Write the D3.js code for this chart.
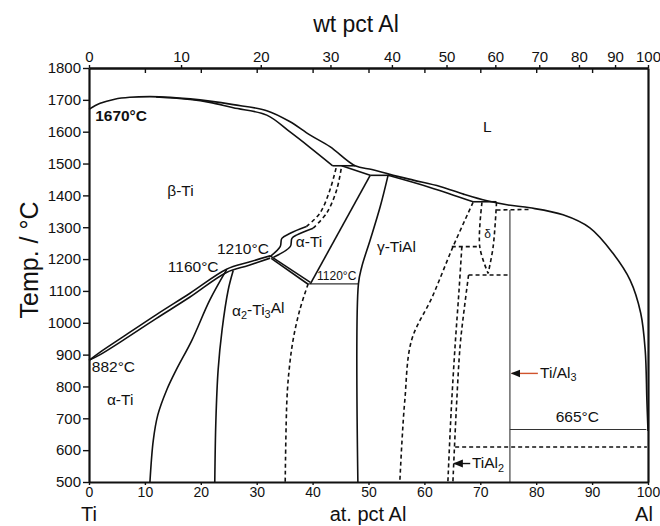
<!DOCTYPE html>
<html>
<head>
<meta charset="utf-8">
<script src="https://d3js.org/d3.v7.min.js"></script>
<style>
body{margin:0;background:#fff}
svg text{font-family:"Liberation Sans",Arial,Helvetica,sans-serif;fill:#111}
</style>
</head>
<body>
<script>
// all curves: [at. pct Al, temperature in degC]
var tempTicks = [500,600,700,800,900,1000,1100,1200,1300,1400,1500,1600,1700,1800];
var atTicks = [0,10,20,30,40,50,60,70,80,90,100];
var wtTicks = [0,10,20,30,40,50,60,70,80,90,100];
var atInnerTicks = [10,20,30,40,50,60,70,80,90];

var liquidus = [[0,1670],[2,1689],[4.6,1702],[7.3,1708],[10.9,1710],[14.5,1708],[18.1,1703],[21.6,1696],[25.8,1685],[31.8,1666],[35.9,1632],[39.5,1590],[43.1,1553],[47.6,1493],[50.6,1481],[53.8,1466],[58,1448],[62.8,1428],[67,1404],[71.2,1383],[75,1370],[78.9,1361],[84.8,1339],[89.6,1298],[93.7,1219],[96.8,1134],[98.7,1030],[99.5,914],[99.8,757],[100,660]];
var betaSolidus = [[12,1709],[18.1,1701],[21.6,1692],[25.8,1675],[31.8,1652],[35.9,1600],[39.5,1551],[43.6,1493]];
var peritectic1490 = [[43.6,1493],[47.6,1493]];
var alphaSolidus = [[45.2,1493],[50.3,1463]];
var peritectic1463 = [[50.3,1463],[53.8,1463]];
var gammaSolidus = [[53.5,1463],[61,1425],[68.7,1380]];
var deltaTop = [[68.7,1380],[72.9,1380]];
var betaTransusUpper = [[0,882],[2,908],[6,955],[12,1025],[18,1092],[24.6,1168],[28.5,1190],[32.4,1210]];
var betaTransusLower = [[0,882],[2,900],[6,944],[12,1013],[18,1080],[24.6,1158],[28.5,1180],[32.4,1203]];
var alphaBetaLeft = [[32.4,1208],[34.2,1239],[34.5,1265],[36.0,1281],[38.9,1302]];
var alphaBetaLeftHigh = [[38.9,1302],[41.3,1344],[43.1,1417],[44.3,1493]];
var alphaBetaRight = [[33.0,1206],[36.0,1239],[36.3,1265],[37.2,1276],[40.1,1297]];
var alphaBetaRightHigh = [[40.1,1297],[42.5,1344],[44.3,1417],[45.2,1493]];
var alphaAlpha2 = [[24.6,1166],[21.6,1071],[18.4,945],[15.6,852],[13.9,789],[12.3,710],[11.5,631],[10.9,500]];
var alpha2Left = [[25.8,1164],[24.9,1103],[23.8,977],[23.1,852],[22.7,694],[22.5,500]];
var alpha2TopUpper = [[32.4,1210],[39.6,1127]];
var alpha2TopLower = [[32.6,1202],[39.2,1121]];
var eutectoid1120 = [[39.2,1122],[48.2,1122]];
var alpha2Right = [[39.2,1122],[37.7,1040],[36.5,945],[35.8,852],[35.4,757],[35.1,500]];
var alphaGamma = [[39.6,1122],[50.3,1463]];
var gammaLeft = [[53.5,1463],[52.1,1365],[50.3,1260],[48.8,1176],[48.2,1122],[48.1,500]];
var gammaRight = [[68.7,1378],[65.1,1238],[61.4,1081],[57.7,945],[56.5,757],[56,631],[55.6,500]];
var line1240 = [[64.9,1239],[69.9,1239]];
var deltaLeft = [[70.3,1378],[69.9,1239],[71.4,1155]];
var deltaRight = [[72.9,1378],[72.3,1239],[71.4,1155]];
var tial2Left = [[66.7,1239],[66.2,1103],[65.5,930],[64.8,726],[64.2,500]];
var tial2Right = [[67.9,1150],[67.1,1040],[66.4,930],[65.7,726],[65.1,500]];
var line1150 = [[67.9,1150],[75.3,1150]];
var line1354 = [[72.9,1354],[78.9,1356]];
var line610 = [[65.5,610],[99.8,610]];
var tial3 = [[75.3,1354],[75.3,500]];
var eutectic665 = [[75.3,665],[99.7,665]];

var solidCurves = [liquidus, betaSolidus, peritectic1490, alphaSolidus, peritectic1463, gammaSolidus, deltaTop,
  betaTransusUpper, betaTransusLower, alphaBetaLeft, alphaBetaRight, alphaAlpha2, alpha2Left,
  alpha2TopUpper, alpha2TopLower, alphaGamma, gammaLeft];
var dashedCurves = [alphaBetaLeftHigh, alphaBetaRightHigh, alpha2Right, gammaRight, line1240, deltaLeft, deltaRight,
  tial2Left, tial2Right, line1150, line1354, line610];
var thinCurves = [tial3, eutectic665, eutectoid1120];

// labels: text, at%, T  (_x = subscript x)
var labels = [
  ["1670°C", 1.1, 1634, "b"],
  ["L", 70.5, 1600],
  ["β-Ti", 14, 1398],
  ["1210°C", 22.9, 1216],
  ["1160°C", 14.1, 1159],
  ["α-Ti", 37.0, 1238],
  ["α_2-Ti_3Al", 25.6, 1021],
  ["γ-TiAl", 51.5, 1222],
  ["1120°C", 40.8, 1134, "s"],
  ["δ", 70.7, 1266, "s"],
  ["882°C", 0.5, 845],
  ["α-Ti", 3.2, 741],
  ["665°C", 83.5, 688],
  ["Ti/Al_3", 80.7, 826],
  ["TiAl_2", 68.5, 543]
];
var arrows = [
  [[80.3,841],[75.6,841]],
  [[68.2,558],[65.3,558]]
];

function wtToAt(w) {
  var a = w / 26.98, t = (100 - w) / 47.87;
  return 100 * a / (a + t);
}

var W = 660, H = 526;
var x = d3.scaleLinear().domain([0,100]).range([89,648]);
var y = d3.scaleLinear().domain([500,1800]).range([482,68]);

var svg = d3.select("body").append("svg").attr("width", W).attr("height", H);

svg.append("defs").append("marker")
  .attr("id","arr").attr("viewBox","0 0 10 10").attr("refX",9).attr("refY",5)
  .attr("markerWidth",7).attr("markerHeight",7).attr("orient","auto")
  .append("path").attr("d","M0,1 L10,5 L0,9 z").attr("fill","#111");

var line = d3.line().x(d => x(d[0])).y(d => y(d[1])).curve(d3.curveCatmullRom.alpha(0.5));

svg.append("g").selectAll("path").data(thinCurves).enter().append("path")
  .attr("d", line).attr("fill","none").attr("stroke","#333").attr("stroke-width",1.1);

svg.append("g").selectAll("path").data(dashedCurves).enter().append("path")
  .attr("d", line).attr("fill","none").attr("stroke","#111").attr("stroke-width",1.6)
  .attr("stroke-dasharray","4,3");

svg.append("g").selectAll("path").data(solidCurves).enter().append("path")
  .attr("d", line).attr("fill","none").attr("stroke","#111").attr("stroke-width",1.6);

// arrows
svg.append("g").selectAll("path").data(arrows).enter().append("path")
  .attr("d", d3.line().x(d => x(d[0])).y(d => y(d[1])))
  .attr("stroke", (d,i) => i == 0 ? "#d0532c" : "#111").attr("stroke-width",1.4)
  .attr("marker-end","url(#arr)");

// labels
function rich(t, s) {
  var parts = s.split(/_(.)/);
  parts.forEach(function(p, i) {
    if (!p) return;
    if (i % 2 == 1) t.append("tspan").attr("dy","0.3em").attr("font-size","0.7em").text(p);
    else t.append("tspan").attr("dy", i > 0 ? "-0.3em" : null).text(p);
  });
}
labels.forEach(function(l) {
  var t = svg.append("text").attr("x", x(l[1])).attr("y", y(l[2]))
    .attr("font-size", l[3] == "s" ? 12 : 15.5)
    .attr("font-weight", l[3] == "b" ? "bold" : null);
  rich(t, l[0]);
});

// axes
var fmt = d3.format("d");
var gl = svg.append("g").attr("transform","translate(89,0)")
  .call(d3.axisLeft(y).tickValues(tempTicks).tickFormat(fmt).tickSize(6).tickPadding(2).tickSizeOuter(0));
var gb = svg.append("g").attr("transform","translate(0,482)")
  .call(d3.axisBottom(x).tickValues(atTicks).tickFormat(fmt).tickSize(3).tickPadding(2).tickSizeOuter(0));
var gt = svg.append("g").attr("transform","translate(0,68)")
  .call(d3.axisTop(x).tickValues(wtTicks.map(wtToAt)).tickFormat((d,i) => wtTicks[i]).tickSize(3).tickPadding(3).tickSizeOuter(0));
var gti = svg.append("g").attr("transform","translate(0,68)")
  .call(d3.axisTop(x).tickValues(atInnerTicks).tickFormat("").tickSize(-5).tickSizeOuter(0));
var gr = svg.append("g").attr("transform","translate(648,0)")
  .call(d3.axisRight(y).tickValues([]).tickSizeOuter(0));

[gl, gb, gt, gti, gr].forEach(function(g) {
  g.selectAll("text").attr("font-size", 15).attr("font-family", null).attr("fill","#111");
  g.selectAll("line").attr("stroke","#111").attr("stroke-width",1.4);
  g.select(".domain").attr("stroke","#111").attr("stroke-width",2.2);
});
gb.selectAll("text").attr("font-size", 14);

// titles
svg.append("text").attr("x", 356).attr("y", 32).attr("text-anchor","middle").attr("font-size",23).text("wt pct Al");
svg.append("text").attr("x", x(0)).attr("y", 521).attr("text-anchor","middle").attr("font-size",20).text("Ti");
svg.append("text").attr("x", 368).attr("y", 521).attr("text-anchor","middle").attr("font-size",20).text("at. pct Al");
svg.append("text").attr("x", 644).attr("y", 521).attr("text-anchor","middle").attr("font-size",20).text("Al");
svg.append("text").attr("transform","translate(38,260) rotate(-90)").attr("text-anchor","middle").attr("font-size",25).text("Temp. / °C");
</script>
</body>
</html>
